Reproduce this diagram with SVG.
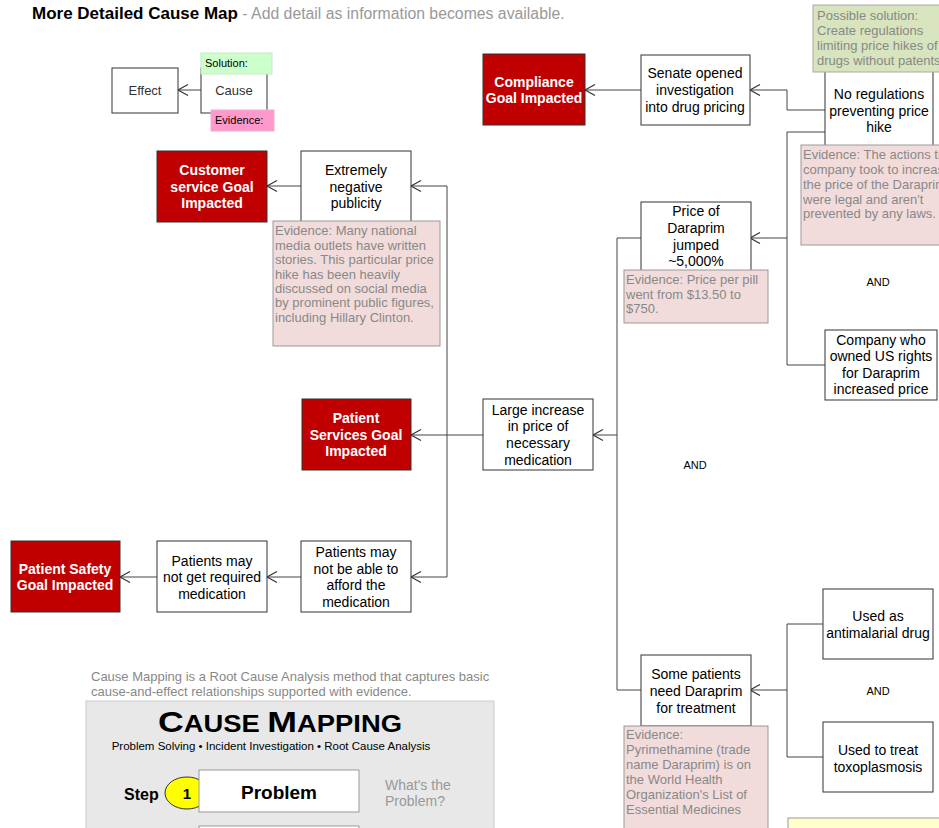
<svg xmlns="http://www.w3.org/2000/svg" width="939" height="828" viewBox="0 0 939 828">
<defs>
<marker id="arr" markerUnits="userSpaceOnUse" markerWidth="14" markerHeight="14" viewBox="0 0 14 14" refX="12" refY="7" orient="auto">
<path d="M2,1.5 L12,7 L2,12.5" fill="none" stroke="#333" stroke-width="1.2"/>
</marker>
</defs>
<style>
text{font-family:"Liberation Sans",Arial,sans-serif}
.node{fill:#fff;stroke:#333;stroke-width:1}
.goal{fill:#c00000;stroke:#333;stroke-width:1}
.ev{fill:#f2dcdb;stroke:#999;stroke-width:1}
.sol{fill:#d7e4bd;stroke:#aaa;stroke-width:1}
.t{font-size:14px;fill:#000;text-anchor:middle}
.gt{font-size:14px;fill:#fff;font-weight:bold;text-anchor:middle}
.et{font-size:13px;fill:#888}
.and{font-size:11px;fill:#000;text-anchor:middle}
.con{fill:none;stroke:#444;stroke-width:1}
</style>
<rect width="939" height="828" fill="#fff"/>

<g id="title">
<text x="32" y="19" font-size="17" font-weight="bold" fill="#000">More Detailed Cause Map<tspan font-weight="normal" font-size="15.8" fill="#999"> - Add detail as information becomes available.</tspan></text>
</g>

<g id="connectors">
<polyline class="con" points="201,90 178,90" marker-end="url(#arr)"/>
<polyline class="con" points="641,90 585,90" marker-end="url(#arr)"/>
<polyline class="con" points="825,110 787,110 787,90 750,90" marker-end="url(#arr)"/>
<polyline class="con" points="825,132 787,132 787,238 750,238" marker-end="url(#arr)"/>
<polyline class="con" points="825,365 787,365 787,238"/>
<polyline class="con" points="641,238 617,238 617,435 593,435" marker-end="url(#arr)"/>
<polyline class="con" points="641,690 617,690 617,435"/>
<polyline class="con" points="823,624 787,624 787,690 750,690" marker-end="url(#arr)"/>
<polyline class="con" points="823,757 787,757 787,690"/>
<polyline class="con" points="483,435 411,435" marker-end="url(#arr)"/>
<polyline class="con" points="447,435 447,186 411,186" marker-end="url(#arr)"/>
<polyline class="con" points="447,435 447,577 411,577" marker-end="url(#arr)"/>
<polyline class="con" points="301,186 267,186" marker-end="url(#arr)"/>
<polyline class="con" points="301,577 267,577" marker-end="url(#arr)"/>
<polyline class="con" points="157,577 120,577" marker-end="url(#arr)"/>
</g>

<g id="legend-effect">
<rect class="node" x="112" y="68" width="66" height="45" stroke="#666"/>
<text x="145" y="95" font-size="13" text-anchor="middle" fill="#333">Effect</text>
</g>
<g id="legend-cause">
<rect class="node" x="201" y="68" width="66" height="45" stroke="#666"/>
<text x="234" y="95" font-size="13" text-anchor="middle" fill="#333">Cause</text>
<rect x="201" y="53" width="71" height="21" fill="#ccffcc" stroke="#c8e8c8"/>
<text x="205" y="67" font-size="11" fill="#000">Solution:</text>
<rect x="211" y="110" width="63" height="21" fill="#ff99cc" stroke="#e8b0cc"/>
<text x="215" y="124" font-size="11" fill="#000">Evidence:</text>
</g>

<g id="compliance">
<rect class="goal" x="483" y="54" width="102" height="71"/>
<text class="gt" x="534" y="87">Compliance</text>
<text class="gt" x="534" y="103">Goal Impacted</text>
</g>
<g id="senate">
<rect class="node" x="641" y="55" width="109" height="70"/>
<text class="t" x="695" y="78">Senate opened</text>
<text class="t" x="695" y="95">investigation</text>
<text class="t" x="695" y="112">into drug pricing</text>
</g>

<g id="noregs">
<rect class="node" x="825" y="60" width="108" height="87"/>
<text class="t" x="879" y="99">No regulations</text>
<text class="t" x="879" y="116">preventing price</text>
<text class="t" x="879" y="132">hike</text>
<rect class="sol" x="813" y="5" width="135" height="67"/>
<text class="et" x="817" y="20">Possible solution:</text>
<text class="et" x="817" y="35">Create regulations</text>
<text class="et" x="817" y="50">limiting price hikes of</text>
<text class="et" x="817" y="65">drugs without patents</text>
<rect class="ev" x="801" y="145" width="145" height="100"/>
<text class="et" x="803" y="159">Evidence: The actions th</text>
<text class="et" x="803" y="174">company took to increas</text>
<text class="et" x="803" y="189">the price of the Daraprim</text>
<text class="et" x="803" y="204">were legal and aren't</text>
<text class="et" x="803" y="218">prevented by any laws.</text>
</g>

<g id="and1"><text class="and" x="878" y="286">AND</text></g>

<g id="company">
<rect class="node" x="825" y="330" width="112" height="70"/>
<text class="t" x="881" y="345">Company who</text>
<text class="t" x="881" y="361">owned US rights</text>
<text class="t" x="881" y="378">for Daraprim</text>
<text class="t" x="881" y="394">increased price</text>
</g>

<g id="price">
<rect class="node" x="641" y="202" width="110" height="70"/>
<text class="t" x="696" y="216">Price of</text>
<text class="t" x="696" y="233">Daraprim</text>
<text class="t" x="696" y="250">jumped</text>
<text class="t" x="696" y="266">~5,000%</text>
<rect class="ev" x="624" y="270" width="144" height="53"/>
<text class="et" x="626" y="284">Evidence: Price per pill</text>
<text class="et" x="626" y="299">went from $13.50 to</text>
<text class="et" x="626" y="313">$750.</text>
</g>

<g id="large">
<rect class="node" x="483" y="399" width="110" height="71"/>
<text class="t" x="538" y="415">Large increase</text>
<text class="t" x="538" y="431">in price of</text>
<text class="t" x="538" y="448">necessary</text>
<text class="t" x="538" y="465">medication</text>
</g>

<g id="and2"><text class="and" x="695" y="469">AND</text></g>

<g id="patientservices">
<rect class="goal" x="302" y="399" width="109" height="71"/>
<text class="gt" x="356" y="423">Patient</text>
<text class="gt" x="356" y="440">Services Goal</text>
<text class="gt" x="356" y="456">Impacted</text>
</g>

<g id="negative">
<rect class="node" x="301" y="151" width="110" height="71"/>
<text class="t" x="356" y="175">Extremely</text>
<text class="t" x="356" y="192">negative</text>
<text class="t" x="356" y="208">publicity</text>
<rect class="ev" x="273" y="221" width="167" height="125"/>
<text class="et" x="275" y="235">Evidence: Many national</text>
<text class="et" x="275" y="250">media outlets have written</text>
<text class="et" x="275" y="264">stories. This particular price</text>
<text class="et" x="275" y="279">hike has been heavily</text>
<text class="et" x="275" y="293">discussed on social media</text>
<text class="et" x="275" y="307">by prominent public figures,</text>
<text class="et" x="275" y="322">including Hillary Clinton.</text>
</g>

<g id="customer">
<rect class="goal" x="157" y="151" width="110" height="71"/>
<text class="gt" x="212" y="175">Customer</text>
<text class="gt" x="212" y="192">service Goal</text>
<text class="gt" x="212" y="208">Impacted</text>
</g>

<g id="afford">
<rect class="node" x="301" y="541" width="110" height="71"/>
<text class="t" x="356" y="557">Patients may</text>
<text class="t" x="356" y="574">not be able to</text>
<text class="t" x="356" y="590">afford the</text>
<text class="t" x="356" y="607">medication</text>
</g>
<g id="notget">
<rect class="node" x="157" y="541" width="110" height="71"/>
<text class="t" x="212" y="566">Patients may</text>
<text class="t" x="212" y="582">not get required</text>
<text class="t" x="212" y="599">medication</text>
</g>
<g id="safety">
<rect class="goal" x="11" y="541" width="109" height="71"/>
<text class="gt" x="65" y="574">Patient Safety</text>
<text class="gt" x="65" y="590">Goal Impacted</text>
</g>

<g id="somepatients">
<rect class="node" x="641" y="655" width="110" height="71"/>
<text class="t" x="696" y="679">Some patients</text>
<text class="t" x="696" y="696">need Daraprim</text>
<text class="t" x="696" y="713">for treatment</text>
<rect class="ev" x="624" y="726" width="144" height="110"/>
<text class="et" x="626" y="739">Evidence:</text>
<text class="et" x="626" y="754">Pyrimethamine (trade</text>
<text class="et" x="626" y="769">name Daraprim) is on</text>
<text class="et" x="626" y="784">the World Health</text>
<text class="et" x="626" y="799">Organization's List of</text>
<text class="et" x="626" y="814">Essential Medicines</text>
</g>

<g id="antimalarial">
<rect class="node" x="823" y="589" width="110" height="70"/>
<text class="t" x="878" y="621">Used as</text>
<text class="t" x="878" y="638">antimalarial drug</text>
</g>
<g id="and3"><text class="and" x="878" y="695">AND</text></g>
<g id="toxo">
<rect class="node" x="823" y="722" width="110" height="70"/>
<text class="t" x="878" y="755">Used to treat</text>
<text class="t" x="878" y="772">toxoplasmosis</text>
</g>

<g id="yellownote">
<rect x="788" y="818" width="160" height="30" fill="#ffffcc" stroke="#999"/>
</g>

<g id="causemapping">
<text x="91" y="681" font-size="13" fill="#888">Cause Mapping is a Root Cause Analysis method that captures basic</text>
<text x="91" y="696" font-size="13" fill="#888">cause-and-effect relationships supported with evidence.</text>
<rect x="86" y="701" width="408" height="140" fill="#e8e8e8" stroke="#ccc"/>
<text x="280" y="732" text-anchor="middle" font-family="'DejaVu Serif','Liberation Serif',serif" font-weight="bold" fill="#000" textLength="244" lengthAdjust="spacingAndGlyphs"><tspan font-size="30">C</tspan><tspan font-size="23">AUSE </tspan><tspan font-size="30">M</tspan><tspan font-size="23">APPING</tspan></text>
<text x="271" y="750" font-size="11.5" text-anchor="middle" fill="#000">Problem Solving • Incident Investigation • Root Cause Analysis</text>
<text x="124" y="800" font-size="16" font-weight="bold" fill="#000">Step</text>
<ellipse cx="187" cy="793" rx="22" ry="16" fill="#ffff00" stroke="#333"/>
<text x="187" y="799" font-size="15" font-weight="bold" text-anchor="middle" fill="#000">1</text>
<rect x="199" y="770" width="160" height="42" fill="#fff" stroke="#999"/>
<text x="279" y="799" font-size="19" font-weight="bold" text-anchor="middle" fill="#000">Problem</text>
<text x="385" y="790" font-size="14" fill="#999">What's the</text>
<text x="385" y="806" font-size="14" fill="#999">Problem?</text>
<rect x="199" y="826" width="160" height="42" fill="#fff" stroke="#999"/>
</g>
</svg>
